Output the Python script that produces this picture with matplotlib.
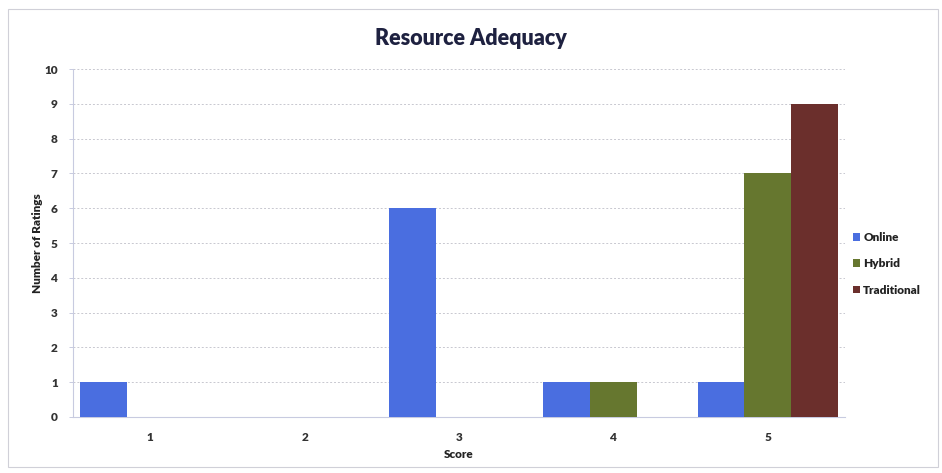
import matplotlib
matplotlib.use("Agg")
import matplotlib.pyplot as plt
import numpy as np

scores = ["1", "2", "3", "4", "5"]
online = [1, 0, 6, 1, 1]
hybrid = [0, 0, 0, 1, 7]
traditional = [0, 0, 0, 0, 9]
series_names = ["Online", "Hybrid", "Traditional"]
colors = ["#4a6ee0", "#66772f", "#6b2f2c"]

plt.rcParams['font.family'] = ['Lato', 'DejaVu Sans']

fig = plt.figure(figsize=(9.42, 4.73), dpi=100)
fig.patch.set_facecolor("white")
ax = fig.add_axes([0.0775, 0.1184, 0.8195, 0.7356])

x = np.arange(len(scores))
w = 0.302
for i, (vals, name, c) in enumerate(zip([online, hybrid, traditional], series_names, colors)):
    ax.bar(x + (i - 1) * w, vals, width=w, color=c, label=name, zorder=3)

ax.set_xlim(-0.5, len(scores) - 0.5)
ax.set_ylim(0, 10)
ax.set_yticks(range(0, 11))
ax.set_xticks(x)
ax.set_xticklabels(scores)
ax.tick_params(axis='both', labelsize=8.5, labelcolor="#333333")
ax.tick_params(axis='y', length=3, width=0.7, color="#c8cbe0", pad=8)
ax.tick_params(axis='x', length=0, pad=11)
for lab in ax.get_xticklabels() + ax.get_yticklabels():
    lab.set_fontweight("heavy")

ax.grid(axis='y', color="#c8c8d0", linewidth=0.7, linestyle=(0, (2, 2)), zorder=0)
for s in ["top", "right"]:
    ax.spines[s].set_visible(False)
ax.spines["left"].set_color("#c8cbe0")
ax.spines["bottom"].set_color("#c8cbe0")

ax.set_xlabel("Score", fontsize=8.5, fontweight="heavy", color="#222222", labelpad=4)
ax.set_ylabel("Number of Ratings", fontsize=8.5, fontweight="heavy", color="#222222", labelpad=1)
fig.text(0.5, 0.918, "Resource Adequacy", ha="center", va="center",
         fontsize=15.5, fontweight="heavy", color="#1e2140")

leg = ax.legend(loc="center left", bbox_to_anchor=(0.996, 0.44), frameon=False,
                fontsize=8.5, handlelength=0.6, handleheight=0.6, handletextpad=0.3,
                labelspacing=1.3)
for t in leg.get_texts():
    t.set_fontweight("heavy")
    t.set_color("#222222")

# chart frame
fig.add_artist(plt.Rectangle((0.008, 0.012), 0.988, 0.968, transform=fig.transFigure,
                             fill=False, edgecolor="#d0d0d8", linewidth=0.8))

fig.savefig("out.png", dpi=100)
